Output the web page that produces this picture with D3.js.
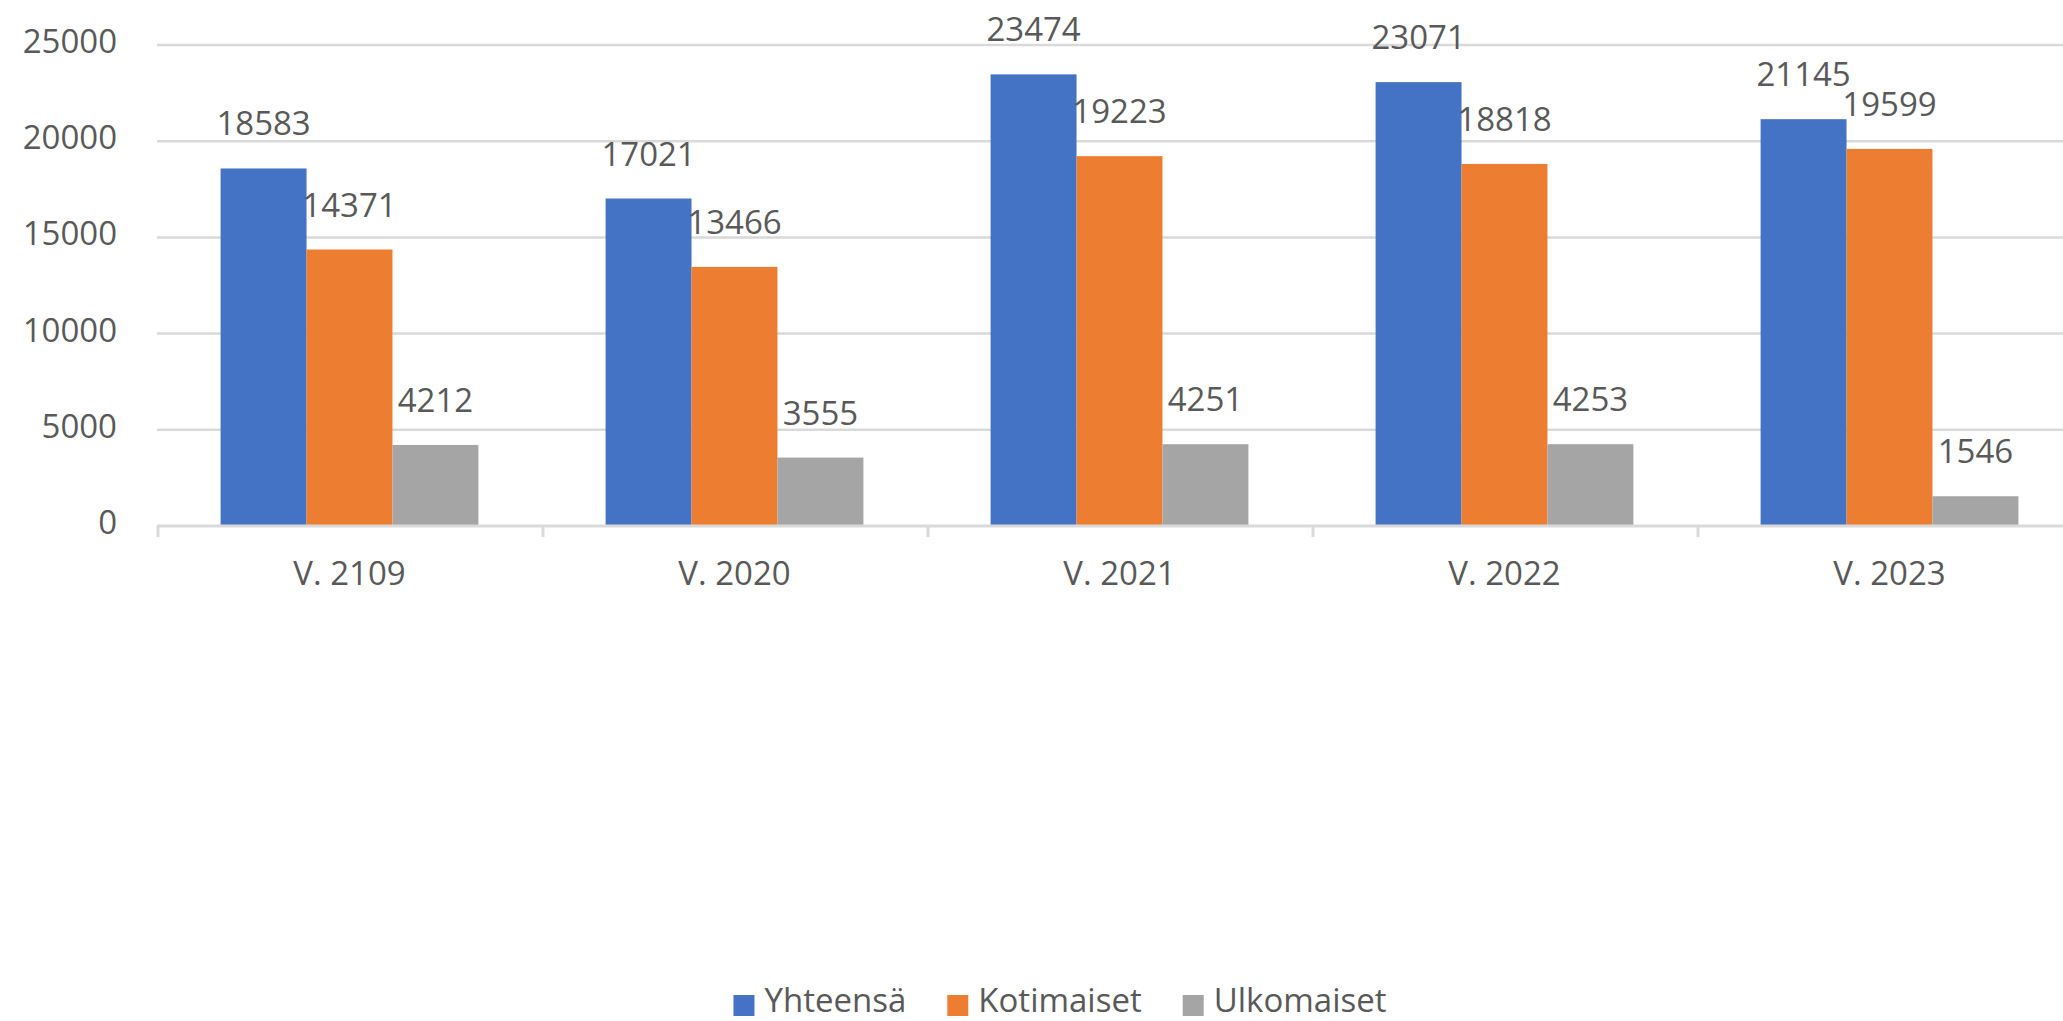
<!DOCTYPE html>
<html>
<head>
<meta charset="utf-8">
<script src="https://cdn.jsdelivr.net/npm/d3@7"></script>
<style>
  html, body { margin: 0; padding: 0; background: #fff; overflow: hidden; }
  text { font-family: "Open Sans", sans-serif; fill: #595959; }
</style>
</head>
<body>
<div id="chart"></div>
<script>
// data
var categories = ["V. 2109", "V. 2020", "V. 2021", "V. 2022", "V. 2023"];
var seriesNames = ["Yhteensä", "Kotimaiset", "Ulkomaiset"];
var yhteensa = [18583, 17021, 23474, 23071, 21145];
var kotimaiset = [14371, 13466, 19223, 18818, 19599];
var ulkomaiset = [4212, 3555, 4251, 4253, 1546];
var yTicks = [0, 5000, 10000, 15000, 20000, 25000];
var colors = ["#4472c4", "#ed7d31", "#a5a5a5"];

var seriesValues = [yhteensa, kotimaiset, ulkomaiset];

var W = 2063, H = 1021;
var margin = {left: 157, top: 45};
var catWidth = 385;   // the plot runs off the right edge, like the original

var svg = d3.select("#chart").append("svg")
    .attr("width", W)
    .attr("height", H);

var x0 = d3.scaleBand()
    .domain(categories)
    .range([margin.left, margin.left + catWidth * categories.length])
    .paddingInner(0).paddingOuter(0);

var x1 = d3.scaleBand()
    .domain(seriesNames)
    .range([0, x0.bandwidth()])
    .paddingInner(0)
    .paddingOuter(0.74);

var y = d3.scaleLinear()
    .domain([0, 25000])
    .range([526, margin.top]);

// gridlines
svg.append("g").selectAll("line")
    .data(yTicks.slice(1)).enter().append("line")
    .attr("x1", margin.left)
    .attr("x2", W)
    .attr("y1", function(d) { return y(d); })
    .attr("y2", function(d) { return y(d); })
    .attr("stroke", "#d9d9d9")
    .attr("stroke-width", 2.5);

// y tick labels
svg.append("g").selectAll("text")
    .data(yTicks).enter().append("text")
    .attr("x", 117)
    .attr("y", function(d) { return y(d) + 8; })
    .attr("text-anchor", "end")
    .style("font-size", "33px")
    .text(function(d) { return d; });

// bars
var rows = categories.map(function(c, i) {
    return seriesNames.map(function(s, j) {
        return {cat: c, key: s, value: seriesValues[j][i], color: colors[j]};
    });
});

var group = svg.selectAll(".cat")
    .data(rows).enter().append("g")
    .attr("class", "cat")
    .attr("transform", function(d, i) {
        return "translate(" + x0(categories[i]) + ",0)";
    });

group.selectAll("rect")
    .data(function(d) { return d; }).enter().append("rect")
    .attr("x", function(d) { return x1(d.key); })
    .attr("width", x1.bandwidth())
    .attr("y", function(d) { return y(d.value); })
    .attr("height", function(d) { return y(0) - y(d.value); })
    .attr("fill", function(d) { return d.color; });

group.selectAll(".lbl")
    .data(function(d) { return d; }).enter().append("text")
    .attr("class", "lbl")
    .attr("x", function(d) { return x1(d.key) + x1.bandwidth() / 2; })
    .attr("y", function(d) { return y(d.value) - 33; })
    .attr("text-anchor", "middle")
    .style("font-size", "33px")
    .text(function(d) { return d.value; });

// x axis line + ticks
svg.append("line")
    .attr("x1", margin.left)
    .attr("x2", W)
    .attr("y1", y(0))
    .attr("y2", y(0))
    .attr("stroke", "#d9d9d9")
    .attr("stroke-width", 3);

var bounds = categories.map(function(c) { return x0(c); });
bounds.push(x0.range()[1]);
svg.append("g").selectAll("line")
    .data(bounds).enter().append("line")
    .attr("x1", function(d) { return d + 1; })
    .attr("x2", function(d) { return d + 1; })
    .attr("y1", y(0))
    .attr("y2", y(0) + 11)
    .attr("stroke", "#d9d9d9")
    .attr("stroke-width", 3);

svg.append("g").selectAll("text")
    .data(categories).enter().append("text")
    .attr("x", function(d) { return x0(d) + x0.bandwidth() / 2; })
    .attr("y", 585)
    .attr("text-anchor", "middle")
    .style("font-size", "33px")
    .text(function(d) { return d; });

// legend
var legend = svg.append("g");
var lx = 0;
seriesNames.forEach(function(s, i) {
    var item = legend.append("g").attr("transform", "translate(" + lx + ",0)");
    item.append("rect")
        .attr("x", 0)
        .attr("y", 995)
        .attr("width", 21)
        .attr("height", 21)
        .attr("fill", colors[i]);
    var t = item.append("text")
        .attr("x", 31)
        .attr("y", 1012)
        .style("font-size", "33px")
        .text(s);
    lx += 31 + t.node().getComputedTextLength() + 41;
});
var legendWidth = lx - 41;
legend.attr("transform", "translate(" + (1060 - legendWidth / 2) + ",0)");
</script>
</body>
</html>
